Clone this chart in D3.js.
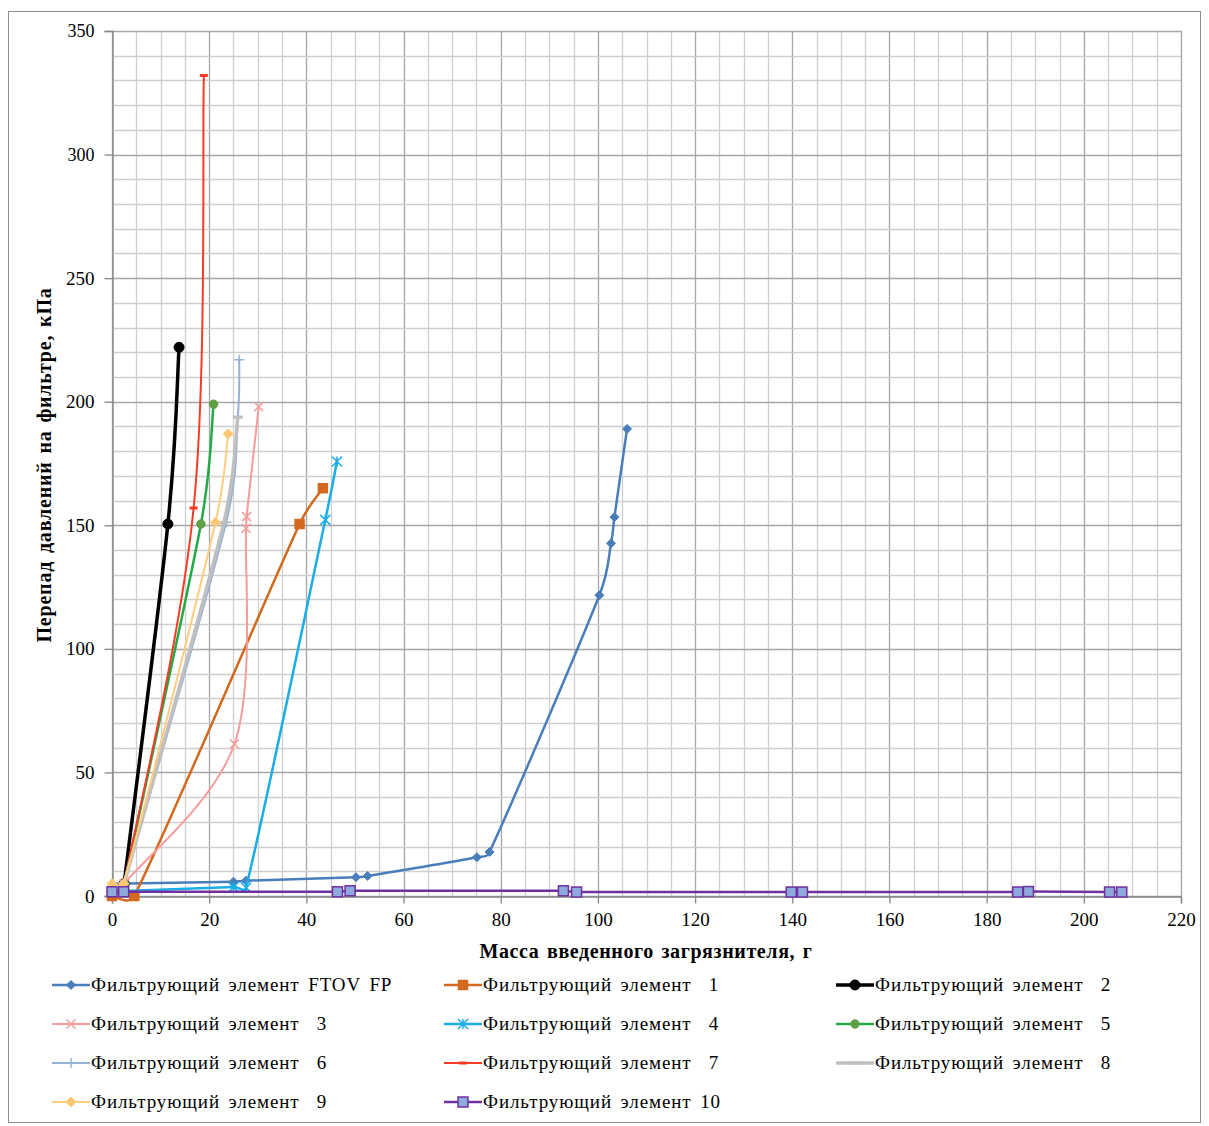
<!DOCTYPE html>
<html>
<head>
<meta charset="utf-8">
<script src="https://cdn.jsdelivr.net/npm/d3@7"></script>
<style>
    body { margin: 0; background: #fff; }
    text { font-family: "Liberation Serif", "Times New Roman", serif; fill: #000; }
</style>
</head>
<body>
<div class="chart"></div>
<script>

// --- data: [mass, g ; pressure drop, kPa]
const ftovFP = [[0,5],[25,5.8],[27.6,6.2],[50.2,7.6],[52.6,8.1],[75.1,15.7],[77.7,17.8],[100.3,121.7],[102.7,142.7],[103.4,153.3],[106,189]];
const element1 = [[0,0],[4.6,0],[38.6,150.5],[43.4,165]];
const element2 = [[2.5,5],[11.5,150.5],[13.8,222]];
const element3 = [[2.5,5],[25.2,61.5],[27.6,148.8],[27.7,153.5],[30.2,198]];
const element4 = [[2.5,2],[25,3.6],[27.6,3.4],[43.9,152.2],[46.3,175.8]];
const element5 = [[2.5,5],[18.3,150.5],[20.9,199]];
const element6 = [[2.5,5],[23.5,151.2],[25.9,194],[26.2,217]];
const element7 = [[2.5,5],[16.8,157],[18.9,332]];
const element8 = [[2.5,5],[23,151],[25.9,193.7]];
const element9 = [[0,5],[2.4,5],[21.3,151.2],[23.9,187]];
const element10 = [[0,1.7],[2.4,1.7],[46.4,1.7],[49,2.1],[92.9,2.1],[95.6,1.6],[139.8,1.6],[142.1,1.6],[186.4,1.6],[188.6,1.8],[205.3,1.6],[207.8,1.6]];

const seriesNames = ["Фильтрующий элемент FTOV FP", "Фильтрующий элемент  1", "Фильтрующий элемент  2",
    "Фильтрующий элемент  3", "Фильтрующий элемент  4", "Фильтрующий элемент  5",
    "Фильтрующий элемент  6", "Фильтрующий элемент  7", "Фильтрующий элемент  8",
    "Фильтрующий элемент  9", "Фильтрующий элемент 10"];
const seriesData = [ftovFP, element1, element2, element3, element4, element5, element6, element7, element8, element9, element10];

const xTicks = [0, 20, 40, 60, 80, 100, 120, 140, 160, 180, 200, 220];
const yTicks = [0, 50, 100, 150, 200, 250, 300, 350];
const xTitle = "Масса введенного загрязнителя, г";
const yTitle = "Перепад давлений на фильтре, кПа";

// --- look of each series (same order as seriesData)
const styles = [
    {color: "#4A7EBB", width: 2.5, marker: "diamond", fill: "#4A7EBB", size: 4.5},
    {color: "#D2691E", width: 2.5, marker: "square", fill: "#D2691E", size: 4.5},
    {color: "#000000", width: 3.5, marker: "circle", fill: "#000000", size: 5},
    {color: "#F79B9B", width: 2, marker: "x", fill: "none", size: 4.5},
    {color: "#1AADE6", width: 2.5, marker: "star", fill: "none", size: 5},
    {color: "#22AA48", width: 2.5, marker: "circle", fill: "#5E9E44", size: 4.2},
    {color: "#95B3D7", width: 2, marker: "plus", fill: "none", size: 5},
    {color: "#F53B23", width: 2, marker: "dash", fill: "#F53B23", size: 4},
    {color: "#BFBFBF", width: 3.5, marker: "dash", fill: "#BFBFBF", size: 4.5},
    {color: "#FFCC80", width: 2, marker: "diamond", fill: "#FFC670", size: 5},
    {color: "#7030A0", width: 2.5, marker: "square", fill: "#8EA9DB", size: 5}
];

class PressureChart {

    constructor(){
        this.width = 1209;
        this.height = 1126;
        this.plot = {left: 112, top: 31, right: 1181, bottom: 896};

        this.x = d3.scaleLinear().domain([0, 220]).range([this.plot.left, this.plot.right]);
        this.y = d3.scaleLinear().domain([0, 350]).range([this.plot.bottom, this.plot.top]);

        this.svg = d3.select(".chart").append("svg")
            .attr("width", this.width)
            .attr("height", this.height);

        this.drawFrame();
        this.drawGrid();
        this.drawAxes();
        this.drawSeries();
        this.drawLegend();
    }

    drawFrame(){
        this.svg.append("rect")
            .attr("x", 8.5).attr("y", 11.5)
            .attr("width", 1192).attr("height", 1111)
            .attr("fill", "#fff")
            .attr("stroke", "#8C8C8C");
    }

    drawGrid(){
        let g = this.svg.append("g").attr("class", "grid");
        let xs = d3.range(0, 221, 5);
        let ys = d3.range(0, 351, 10);

        g.selectAll(".vx").data(xs).join("line")
            .attr("x1", d => Math.round(this.x(d)) + 0.5)
            .attr("x2", d => Math.round(this.x(d)) + 0.5)
            .attr("y1", this.plot.top).attr("y2", this.plot.bottom)
            .attr("stroke", d => d % 20 === 0 ? "#A6A6A6" : "#CFCFCF")
            .attr("stroke-width", 1.3);

        g.selectAll(".hy").data(ys).join("line")
            .attr("y1", d => Math.round(this.y(d)) + 0.5)
            .attr("y2", d => Math.round(this.y(d)) + 0.5)
            .attr("x1", this.plot.left).attr("x2", this.plot.right)
            .attr("stroke", d => d % 50 === 0 ? "#A6A6A6" : "#CFCFCF")
            .attr("stroke-width", 1.3);
    }

    drawAxes(){
        let xAxis = d3.axisBottom(this.x).tickValues(xTicks).tickSize(7).tickPadding(9);
        let yAxis = d3.axisLeft(this.y).tickValues(yTicks).tickSize(8).tickPadding(10);

        let gx = this.svg.append("g")
            .attr("transform", `translate(0,${this.plot.bottom + 0.5})`)
            .call(xAxis);
        let gy = this.svg.append("g")
            .attr("transform", `translate(${this.plot.left + 0.5},0)`)
            .call(yAxis);

        for (let g of [gx, gy]){
            g.select(".domain").attr("stroke", "#868686").attr("stroke-width", 1.3);
            g.selectAll(".tick line").attr("stroke", "#868686").attr("stroke-width", 1.3);
            g.selectAll(".tick text")
                .attr("font-family", "Liberation Serif, serif")
                .attr("font-size", 19)
                .attr("fill", "#000");
        }
        // the top two labels are in a sans face in the original
        gy.selectAll(".tick text")
            .filter(d => d >= 300)
            .attr("font-family", "Liberation Sans, sans-serif")
            .attr("font-size", 18);

        this.svg.append("text")
            .attr("x", 646).attr("y", 958)
            .attr("text-anchor", "middle")
            .attr("font-weight", "bold")
            .attr("font-size", 20)
            .attr("letter-spacing", 0.6)
            .attr("word-spacing", 2)
            .text(xTitle);

        this.svg.append("text")
            .attr("transform", "translate(51,465) rotate(-90)")
            .attr("text-anchor", "middle")
            .attr("font-weight", "bold")
            .attr("font-size", 20)
            .attr("letter-spacing", 0.8)
            .attr("word-spacing", 2)
            .text(yTitle);
    }

    drawMarker(g, st, px, py){
        let s = st.size;
        switch(st.marker){
            case "diamond":
                g.append("path")
                    .attr("d", `M${px},${py - s}L${px + s},${py}L${px},${py + s}L${px - s},${py}Z`)
                    .attr("fill", st.fill).attr("stroke", st.color).attr("stroke-width", 1);
                break;
            case "square":
                g.append("rect")
                    .attr("x", px - s).attr("y", py - s)
                    .attr("width", 2 * s).attr("height", 2 * s)
                    .attr("fill", st.fill).attr("stroke", st.color).attr("stroke-width", 1.5);
                break;
            case "circle":
                g.append("circle")
                    .attr("cx", px).attr("cy", py).attr("r", s)
                    .attr("fill", st.fill).attr("stroke", st.fill);
                break;
            case "x":
                g.append("path")
                    .attr("d", `M${px - s},${py - s}L${px + s},${py + s}M${px - s},${py + s}L${px + s},${py - s}`)
                    .attr("stroke", st.color).attr("stroke-width", 1.5).attr("fill", "none");
                break;
            case "star":
                g.append("path")
                    .attr("d", `M${px - s},${py - s}L${px + s},${py + s}M${px - s},${py + s}L${px + s},${py - s}M${px},${py - s}L${px},${py + s}`)
                    .attr("stroke", st.color).attr("stroke-width", 1.5).attr("fill", "none");
                break;
            case "plus":
                g.append("path")
                    .attr("d", `M${px - s},${py}L${px + s},${py}M${px},${py - s}L${px},${py + s}`)
                    .attr("stroke", st.color).attr("stroke-width", 1.5).attr("fill", "none");
                break;
            case "dash":
                g.append("rect")
                    .attr("x", px - s).attr("y", py - 1.5)
                    .attr("width", 2 * s).attr("height", 3)
                    .attr("fill", st.fill);
                break;
        }
    }

    // spreadsheet-like smoothing: bezier with tangents (next - prev)/6,
    // shortened on short segments so they never loop back
    smoothLine(data){
        let pts = data.map(d => [this.x(d[0]), this.y(d[1])]);
        let path = d3.path();
        path.moveTo(pts[0][0], pts[0][1]);
        let clamp = (v, max) => {
            let len = Math.hypot(v[0], v[1]);
            return len > max ? [v[0] * max / len, v[1] * max / len] : v;
        };
        for (let i = 0; i < pts.length - 1; i++){
            let p0 = pts[i - 1] || pts[i], p1 = pts[i], p2 = pts[i + 1], p3 = pts[i + 2] || pts[i + 1];
            let seg = Math.hypot(p2[0] - p1[0], p2[1] - p1[1]) * 0.5;
            let t1 = clamp([(p2[0] - p0[0]) / 6, (p2[1] - p0[1]) / 6], seg);
            let t2 = clamp([(p3[0] - p1[0]) / 6, (p3[1] - p1[1]) / 6], seg);
            path.bezierCurveTo(p1[0] + t1[0], p1[1] + t1[1], p2[0] - t2[0], p2[1] - t2[1], p2[0], p2[1]);
        }
        return path.toString();
    }

    drawSeries(){
        let that = this;

        let groups = this.svg.append("g").attr("class", "series")
            .selectAll("g")
            .data(seriesData)
            .join("g");

        groups.append("path")
            .attr("d", d => this.smoothLine(d))
            .attr("fill", "none")
            .attr("stroke", (d, i) => styles[i].color)
            .attr("stroke-width", (d, i) => styles[i].width)
            .attr("stroke-linejoin", "round");

        groups.each(function(d, i){
            let g = d3.select(this);
            for (let p of d)
                that.drawMarker(g, styles[i], that.x(p[0]), that.y(p[1]));
        });
    }

    drawLegend(){
        let colX = [52, 444, 836];
        let rowY = [985, 1024, 1063, 1102];
        let g = this.svg.append("g").attr("class", "legend");

        seriesNames.forEach((name, i) => {
            let lx = colX[i % 3];
            let ly = rowY[Math.floor(i / 3)];
            let st = styles[i];
            let item = g.append("g");
            item.append("line")
                .attr("x1", lx).attr("x2", lx + 38)
                .attr("y1", ly).attr("y2", ly)
                .attr("stroke", st.color)
                .attr("stroke-width", st.width);
            this.drawMarker(item, st, lx + 19, ly);
            item.append("text")
                .attr("x", lx + 39).attr("y", ly + 6)
                .attr("font-size", 19)
                .attr("letter-spacing", 0.9)
                .attr("word-spacing", 3)
                .style("white-space", "pre")
                .text(name);
        });
    }
}

new PressureChart();
</script>
</body>
</html>
